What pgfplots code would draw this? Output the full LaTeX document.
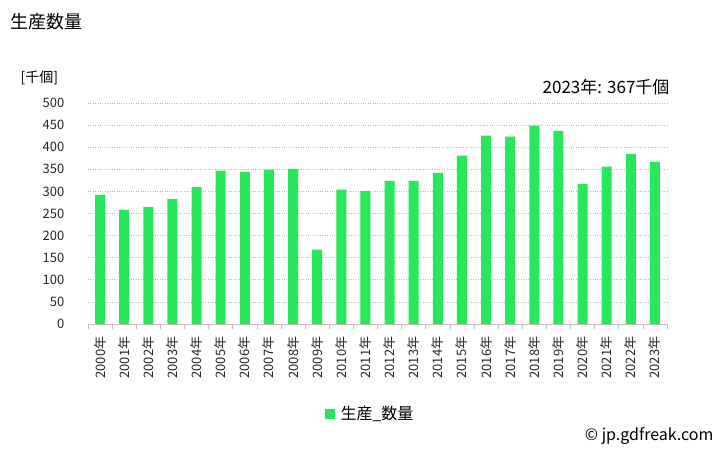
\documentclass[border=0pt]{standalone}
\usepackage{pgfplots}
\pgfplotsset{compat=1.18}
\usepackage{fontspec}
\setmainfont{Noto Sans CJK JP}
\definecolor{barg}{RGB}{38,232,90}
\begin{document}
\begin{tikzpicture}[x=1bp,y=1bp]
\path[use as bounding box] (0,0) rectangle (728,450);
\begin{axis}[
  at={(88bp,126bp)}, anchor=south west,
  scale only axis, width=579bp, height=221bp,
  xmin=-0.5, xmax=23.5, ymin=0, ymax=500,
  ytick={0,50,...,500},
  xtick={0,...,23},
  xticklabels={2000年,2001年,2002年,2003年,2004年,2005年,2006年,2007年,2008年,2009年,2010年,2011年,2012年,2013年,2014年,2015年,2016年,2017年,2018年,2019年,2020年,2021年,2022年,2023年},
  minor xtick={-0.5,0.5,...,23.5},
  major x tick style={draw=none},
  minor x tick style={gray!50, line width=0.6pt},
  minor tick length=5bp,
  xtick pos=bottom, tick align=outside,
  axis lines*=left,
  y axis line style={draw=none},
  ytick style={draw=none},
  x axis line style={gray!50, line width=0.6pt},
  ymajorgrids, grid style={dotted, gray!55, line width=0.6pt},
  /pgf/number format/assume math mode=true,
  tick label style={font=\fontsize{13bp}{15bp}\selectfont, text=black!85},
  yticklabel style={xshift=-16bp},
  xticklabel style={rotate=90, anchor=east, xshift=-5bp},
  ybar, bar width=10bp,
  legend style={at={(0.487,-0.407)}, anchor=center, draw=none, font=\fontsize{16bp}{18bp}\selectfont, legend cell align=left},
  legend image code/.code={\fill[barg] (0bp,-5bp) rectangle (10bp,5bp);},
]
\addplot[fill=barg, draw=none] coordinates {
(0,292) (1,258) (2,265) (3,283) (4,310) (5,347) (6,344) (7,349) (8,351) (9,168)
(10,304) (11,301) (12,324) (13,324) (14,342) (15,381) (16,426) (17,424) (18,449) (19,437)
(20,317) (21,356) (22,385) (23,367)};
\addlegendentry{\hspace{4bp}生産\_数量}
\end{axis}
\node[anchor=west, font=\fontsize{18bp}{21bp}\selectfont] at (7,428) {生産数量};
\node[anchor=west, font=\fontsize{14bp}{17bp}\selectfont] at (17,372) {[千個]};
\node[anchor=east, font=\fontsize{17bp}{20bp}\selectfont] at (673,363) {2023年: 367千個};
\node[anchor=east, font=\fontsize{16bp}{19bp}\selectfont] at (717,14) {© jp.gdfreak.com};
\end{tikzpicture}
\end{document}
